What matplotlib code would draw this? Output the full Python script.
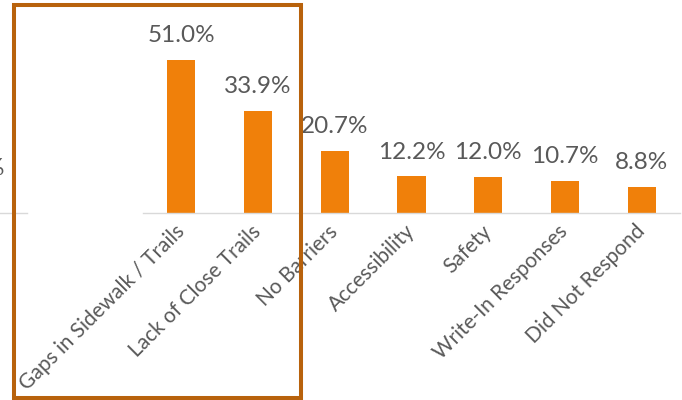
import matplotlib.pyplot as plt
from matplotlib.patches import Rectangle
from matplotlib.lines import Line2D

categories = ['Gaps in Sidewalk / Trails', 'Lack of Close Trails', 'No Barriers',
              'Accessibility', 'Safety', 'Write-In Responses', 'Did Not Respond']
values = [51.0, 33.9, 20.7, 12.2, 12.0, 10.7, 8.8]

bar_color = '#F0800A'
text_color = '#595959'
box_color = '#B8620C'

plt.rcParams['font.family'] = ['Lato', 'DejaVu Sans']

W, H = 682, 400
fig = plt.figure(figsize=(W/100, H/100), dpi=100)
ax = fig.add_axes([143/W, (H-213)/H, 537/W, 213/H])

x = range(len(categories))
bars = ax.bar(x, values, width=0.365, color=bar_color, zorder=2)
for b, v in zip(bars, values):
    ax.annotate('%.1f%%' % v, (b.get_x() + b.get_width()/2, v),
                xytext=(0, 10), textcoords='offset points',
                ha='center', va='bottom', fontsize=17.5, color=text_color,
                annotation_clip=False)

ax.set_xlim(-0.5, len(categories) - 0.5)
ax.set_ylim(0, 71)
ax.set_yticks([])
ax.set_xticks(list(x))
ax.set_xticklabels(categories, rotation=45, ha='right', va='center',
                   rotation_mode='anchor', fontsize=15, color=text_color)
ax.tick_params(axis='x', length=0, pad=11)
for s in ['top', 'right', 'left']:
    ax.spines[s].set_visible(False)
ax.spines['bottom'].set_color('#D9D9D9')
ax.spines['bottom'].set_linewidth(1)

# baseline and label of the neighbouring chart, cut off at the left edge
fig.add_artist(Line2D([0, 27/W], [(H-213)/H]*2, color='#D9D9D9', lw=1))
fig.text(-5/W, (H-168)/H, '%', ha='center', va='center', fontsize=17.5, color=text_color)

# highlight box round the two leading answers
fig.add_artist(Rectangle((14/W, 2/H), 286.5/W, 392.7/H, transform=fig.transFigure,
                         fill=False, edgecolor=box_color, linewidth=2.9, zorder=5))

fig.savefig('out.png', dpi=100)
